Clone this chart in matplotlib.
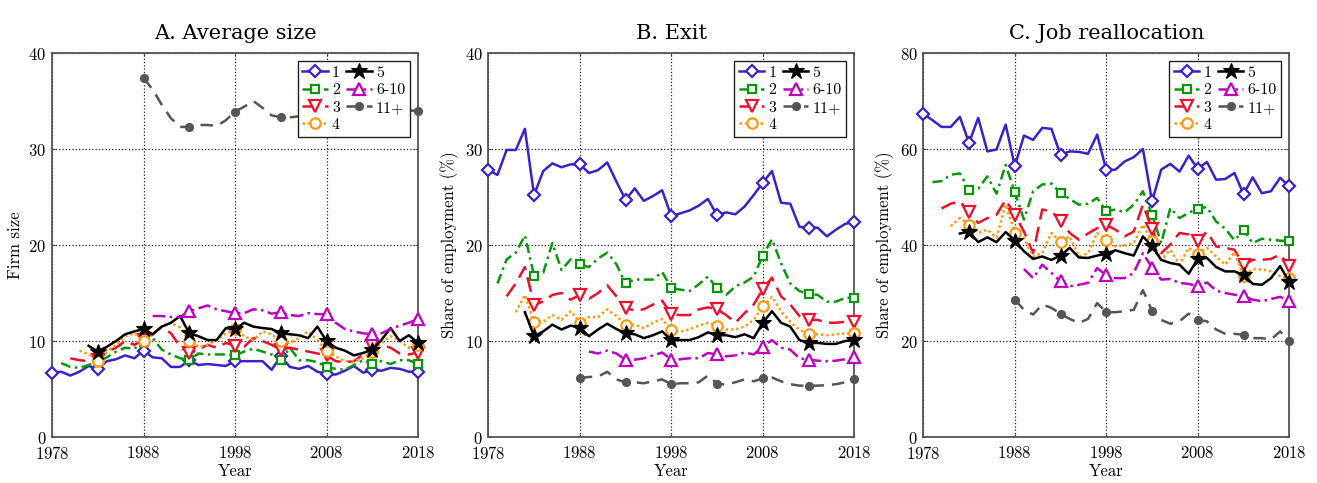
import numpy as np
import matplotlib
matplotlib.use("Agg")
import matplotlib.pyplot as plt

plt.rcParams['font.family'] = 'serif'
plt.rcParams['font.serif'] = ['cmr10']
plt.rcParams['mathtext.fontset'] = 'cm'
plt.rcParams['axes.formatter.use_mathtext'] = True

# first year of each firm-age group, last year is 2018 for all
labels = ['1', '2', '3', '4', '5', '6-10', '11+']
starts = [1978, 1979, 1980, 1981, 1982, 1989, 1988]
last_year = 2018

# A. average firm size
size_1 = [6.7, 6.8, 6.4, 6.8, 7.4, 7.1, 7.9, 8.1, 8.5, 8.2,
          9.0, 8.3, 8.2, 7.3, 7.3, 8.0, 7.5, 7.6, 7.5, 7.4,
          7.9, 7.9, 7.9, 7.9, 7.0, 8.4, 7.3, 7.1, 7.4, 6.8,
          6.6, 6.5, 6.9, 7.4, 6.7, 7.0, 6.9, 7.2, 7.1, 6.8, 6.8]
size_2 = [7.7, 7.3, 7.2, 7.5, 7.8, 8.3, 8.9, 9.3, 9.2, 9.9,
          10.3, 9.1, 8.6, 8.2, 8.0, 8.7, 8.6, 8.6, 8.6, 8.5,
          8.9, 9.2, 8.9, 8.6, 8.0, 9.3, 8.0, 8.0, 7.8, 7.3,
          7.1, 7.0, 7.5, 8.0, 7.6, 7.9, 7.6, 8.0, 8.0, 7.6]
size_3 = [8.2, 8.0, 7.9, 8.0, 8.9, 9.3, 10.0, 9.6, 10.1, 10.7,
          11.5, 10.8, 9.4, 8.7, 9.1, 9.6, 9.3, 9.8, 9.5, 9.4,
          10.3, 10.0, 9.6, 9.1, 9.3, 9.1, 8.9, 8.7, 8.5, 7.9,
          7.8, 7.9, 8.6, 9.5, 9.6, 9.3, 8.7, 8.6, 8.8]
size_4 = [9.0, 8.6, 7.95, 8.9, 9.6, 10.5, 10.8, 10.0, 10.7, 11.5,
          11.9, 11.4, 10.0, 9.4, 9.6, 10.1, 10.8, 11.2, 10.5, 10.1,
          11.0, 10.7, 10.0, 9.8, 10.3, 11.0, 10.1, 9.0, 8.4, 7.9,
          7.9, 8.2, 8.9, 9.8, 10.5, 10.0, 9.3, 9.6]
size_5 = [9.5, 8.9, 9.4, 10.0, 10.7, 11.0, 11.25, 10.7, 11.5, 11.9,
          12.6, 10.8, 10.5, 10.1, 10.1, 11.35, 11.2, 11.9, 11.5, 11.35,
          11.25, 10.8, 10.7, 10.6, 10.3, 11.5, 10.0, 9.3, 9.0, 8.5,
          8.75, 9.1, 10.1, 11.35, 10.0, 10.6, 9.8]
size_6 = [12.6, 12.6, 12.5, 12.5, 13.1, 13.4, 13.7, 13.3, 13.1, 12.9,
          12.9, 13.3, 13.2, 12.85, 13.0, 12.7, 12.6, 12.9, 12.8, 12.8,
          11.9, 11.25, 11.0, 10.8, 10.7, 10.8, 11.25, 11.6, 11.9, 12.3]
size_7 = [37.4, 36.2, 34.6, 33.2, 32.3, 32.3, 32.5, 32.5, 32.4, 33.0,
          33.9, 34.4, 35.0, 34.3, 33.5, 33.3, 33.3, 33.4, 33.8, 34.3,
          34.0, 33.6, 33.2, 33.6, 34.0, 33.8, 34.2, 34.4, 34.1, 34.0, 34.0]

# B. exit, share of employment
exit_1 = [27.8, 27.3, 29.9, 29.9, 32.1, 25.2, 27.7, 28.5, 28.1, 28.4,
          28.4, 27.5, 27.8, 28.6, 26.6, 24.7, 25.9, 24.6, 25.1, 25.7,
          23.0, 23.3, 23.6, 24.1, 24.8, 23.1, 23.4, 23.2, 24.0, 25.2,
          26.5, 27.7, 24.4, 24.3, 21.9, 21.8, 21.8, 20.9, 21.6, 22.2, 22.4]
exit_2 = [16.0, 18.5, 19.2, 21.0, 16.8, 17.1, 20.2, 17.4, 18.5, 18.0,
          17.7, 18.6, 19.2, 18.0, 16.0, 16.4, 16.4, 16.4, 17.2, 15.5,
          15.35, 15.2, 15.9, 16.7, 15.5, 14.8, 15.7, 16.1, 16.7, 18.9,
          20.6, 18.1, 16.0, 15.2, 14.9, 14.8, 14.1, 14.1, 14.5, 14.5]
exit_3 = [14.65, 16.0, 17.7, 13.8, 14.1, 14.8, 15.0, 14.3, 14.8, 14.4,
          15.0, 15.8, 14.65, 13.4, 13.2, 13.3, 13.8, 14.2, 12.8, 12.7,
          12.7, 13.3, 13.5, 13.3, 12.7, 11.9, 12.9, 13.8, 15.4, 16.6,
          14.65, 13.8, 12.6, 12.2, 12.2, 11.9, 11.9, 12.0, 12.0]
exit_4 = [13.0, 14.8, 12.0, 12.0, 12.7, 12.2, 13.1, 11.9, 12.5, 12.5,
          13.3, 12.6, 11.7, 11.7, 11.35, 11.9, 12.3, 11.1, 11.0, 11.2,
          11.6, 11.9, 11.6, 11.2, 11.2, 11.5, 12.2, 13.6, 14.6, 13.1,
          12.0, 11.2, 10.7, 10.7, 10.6, 10.7, 10.8, 10.8]
exit_5 = [13.0, 10.5, 11.0, 11.7, 11.2, 11.6, 11.4, 10.5, 11.2, 11.8,
          11.25, 10.8, 10.7, 10.3, 10.6, 11.0, 10.1, 10.1, 10.1, 10.4,
          10.9, 10.6, 10.6, 10.4, 10.7, 10.3, 11.9, 13.1, 11.9, 11.5,
          10.1, 9.8, 9.8, 9.7, 9.7, 10.0, 10.1]
exit_6 = [8.9, 8.7, 9.0, 8.7, 8.05, 8.05, 8.2, 8.5, 8.8, 8.05,
          8.1, 8.2, 8.2, 8.75, 8.6, 8.4, 8.5, 8.8, 8.6, 9.4,
          10.1, 9.3, 9.1, 8.2, 8.05, 7.95, 7.9, 7.95, 8.1, 8.3]
exit_7 = [6.15, 6.25, 6.3, 6.8, 6.0, 5.7, 5.7, 5.6, 5.8, 6.0,
          5.5, 5.6, 5.6, 5.7, 6.4, 5.55, 5.45, 5.7, 6.0, 5.8,
          6.1, 6.2, 5.8, 5.5, 5.35, 5.35, 5.35, 5.4, 5.5, 5.7, 6.0]

# C. job reallocation, share of employment
realloc_1 = [67.3, 66.0, 64.6, 64.6, 66.7, 61.25, 66.5, 59.5, 59.9, 65.1,
             56.4, 62.8, 61.9, 64.4, 64.2, 58.8, 59.5, 59.4, 59.0, 63.0,
             55.6, 55.7, 57.4, 58.3, 60.0, 49.1, 55.7, 56.9, 55.3, 58.6,
             55.9, 57.3, 53.6, 53.75, 55.0, 50.6, 54.1, 50.8, 51.2, 54.0, 52.2]
realloc_2 = [53.1, 53.3, 54.65, 54.9, 51.5, 51.7, 54.3, 50.7, 56.7, 51.0,
             45.3, 51.2, 52.6, 52.8, 50.8, 49.6, 48.4, 48.6, 49.8, 47.0,
             47.4, 46.8, 48.4, 51.2, 46.3, 40.4, 47.7, 45.6, 46.7, 47.6,
             47.9, 44.9, 43.4, 41.0, 43.05, 40.4, 41.3, 41.1, 40.9, 40.8]
realloc_3 = [47.6, 48.6, 49.1, 46.8, 44.6, 45.6, 46.3, 49.4, 46.3, 42.8,
             38.3, 47.4, 47.0, 45.1, 42.5, 41.1, 42.4, 43.5, 44.2, 43.2,
             41.8, 42.8, 48.4, 43.4, 38.3, 40.1, 42.5, 42.2, 40.9, 42.8,
             39.7, 39.4, 39.0, 35.9, 36.9, 36.9, 37.1, 38.0, 35.6]
realloc_4 = [43.9, 45.6, 44.2, 42.5, 43.2, 41.5, 48.4, 42.6, 41.5, 37.6,
             38.3, 42.5, 40.6, 41.8, 37.6, 38.3, 42.5, 41.1, 39.7, 39.9,
             40.4, 44.2, 40.8, 36.9, 39.0, 35.9, 39.4, 38.1, 39.4, 37.6,
             35.9, 38.5, 33.5, 35.0, 34.9, 34.5, 33.5, 33.1]
realloc_5 = [42.4, 42.8, 40.6, 41.6, 40.6, 42.7, 40.9, 38.7, 37.1, 37.6,
             36.9, 37.8, 39.4, 37.4, 37.3, 37.8, 38.2, 38.9, 38.3, 37.8,
             41.8, 39.7, 36.9, 36.25, 35.9, 34.0, 37.1, 37.3, 35.4, 34.5,
             34.5, 33.8, 31.9, 31.7, 33.1, 35.6, 32.3]
realloc_6 = [35.0, 33.1, 35.9, 34.2, 32.4, 31.4, 31.7, 32.1, 35.2, 33.7,
             33.1, 33.1, 34.2, 38.3, 35.3, 32.8, 32.9, 32.1, 31.9, 31.4,
             32.2, 30.5, 30.0, 29.65, 29.3, 28.6, 28.3, 28.75, 29.2, 28.3]
realloc_7 = [28.6, 26.5, 25.5, 27.6, 26.9, 25.7, 24.6, 23.75, 24.6, 27.9,
             26.0, 26.0, 26.2, 26.5, 30.6, 26.3, 24.4, 23.6, 24.1, 25.7,
             24.4, 24.1, 22.4, 21.5, 21.5, 21.3, 20.6, 20.6, 20.3, 22.0, 19.9]

size_series = [size_1, size_2, size_3, size_4, size_5, size_6, size_7]
exit_series = [exit_1, exit_2, exit_3, exit_4, exit_5, exit_6, exit_7]
realloc_series = [realloc_1, realloc_2, realloc_3, realloc_4, realloc_5, realloc_6, realloc_7]

# line styles for each age group
colors = ['#3f1fcc', '#0a960a', '#ee0f2d', '#ff9a0a', '#000000', '#c000c0', '#555555']
styles = ['-', (0, (4, 1.8, 1, 1.8)), (0, (6, 3)), (0, (1, 1.1)), '-',
          (0, (5, 1.8, 1, 1.8)), (0, (5, 3.2))]
markers = ['D', 's', 'v', 'o', '*', '^', 'o']
msizes = [6, 6, 8, 7.5, 12, 8, 5]
faces = ['white', 'white', 'white', 'white', '#000000', 'white', '#555555']

fig = plt.figure(figsize=(13.17, 4.83), dpi=100)
lefts = [52 / 1317, 488.3 / 1317, 923.3 / 1317]
width = 366 / 1317
bottom = 46 / 483
height = 384 / 483

panels = [
    ('A. Average size', 'Firm size', size_series, 40),
    ('B. Exit', 'Share of employment (%)', exit_series, 40),
    ('C. Job reallocation', 'Share of employment (%)', realloc_series, 80),
]

for left, (title, ylab, series, ymax) in zip(lefts, panels):
    ax = fig.add_axes([left, bottom, width, height])
    for i in range(7):
        yrs = np.arange(starts[i], last_year + 1)
        vals = series[i]
        # markers every five years, counted from 1978
        mk = [j for j, y in enumerate(yrs) if (y - 1978) % 5 == 0]
        ax.plot(yrs, vals, color=colors[i], linestyle=styles[i], lw=1.8,
                marker=markers[i], markersize=msizes[i], markevery=mk,
                markerfacecolor=faces[i], markeredgecolor=colors[i],
                markeredgewidth=1.6 if i != 4 else 0.8, label=labels[i],
                clip_on=False, zorder=3)
    ax.set_xlim(1978, 2018)
    ax.set_ylim(0, ymax)
    ax.set_xticks([1978, 1988, 1998, 2008, 2018])
    ax.set_yticks(np.linspace(0, ymax, 5))
    ax.grid(True, linestyle=':', color='#222222', lw=0.9)
    ax.tick_params(axis='both', direction='in', length=2, labelsize=12,
                   top=True, right=True, color='#444444')
    ax.tick_params(axis='x', pad=6)
    ax.tick_params(axis='y', pad=4)
    for sp in ax.spines.values():
        sp.set_color('#555555')
        sp.set_linewidth(1.3)
    ax.set_title(title, fontsize=15, family='DejaVu Serif', pad=10)
    ax.set_ylabel(ylab, fontsize=12, labelpad=4)
    ax.set_xlabel('Year', fontsize=12, labelpad=1)
    leg = ax.legend(ncol=2, loc='upper right', fontsize=11.5, framealpha=1,
                    fancybox=False, edgecolor='#222222', handlelength=1.6,
                    handletextpad=0.25, columnspacing=0.4, labelspacing=0.2,
                    borderaxespad=0.5, borderpad=0.3)
    leg.get_frame().set_linewidth(1.0)
    leg.set_zorder(5)

fig.savefig('out.png', dpi=100)
